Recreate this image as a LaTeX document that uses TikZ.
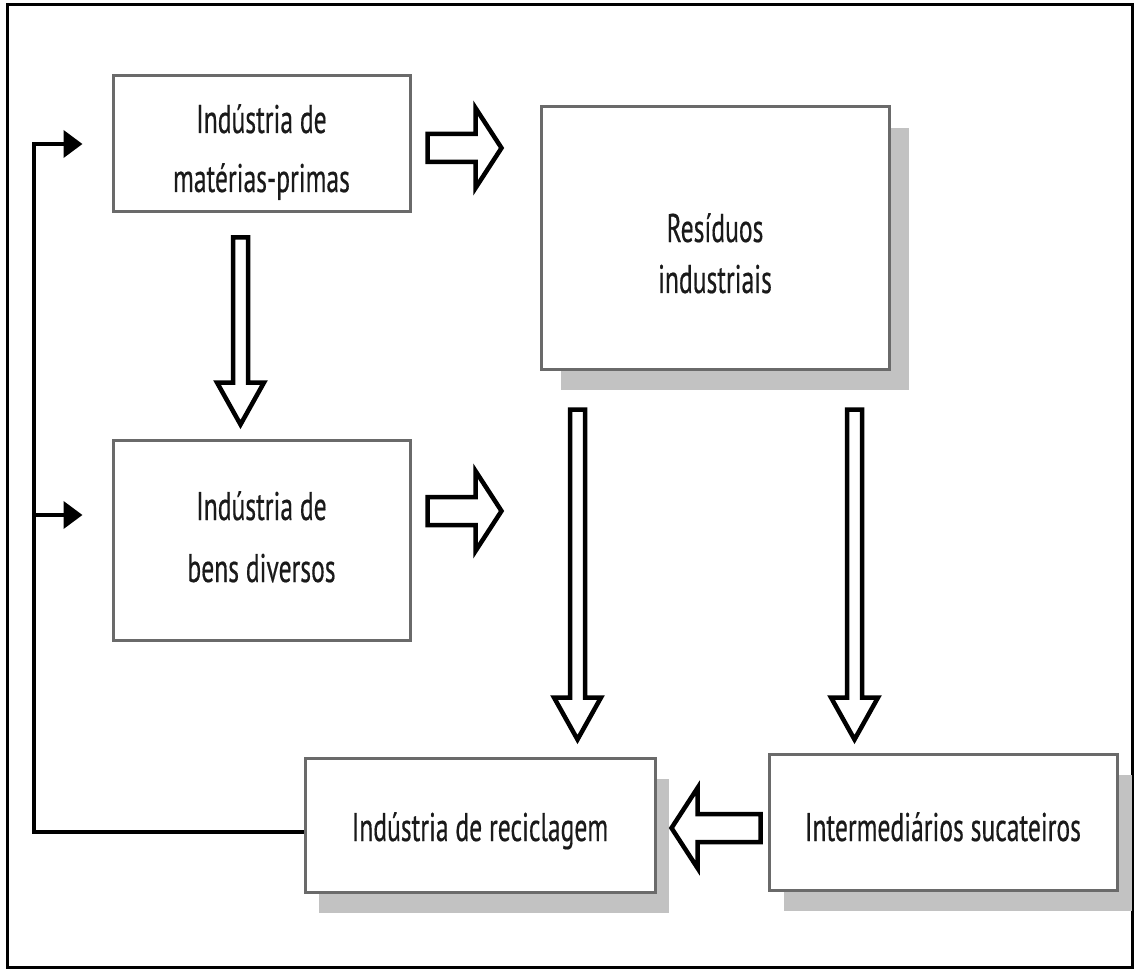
\documentclass[tikz,border=0pt]{standalone}
\usepackage{fontspec}
\setmainfont{PT Sans}[FakeStretch=0.64,FakeBold=0.4]
\usetikzlibrary{calc,shadows,arrows.meta}
\definecolor{boxline}{HTML}{6A6A6A}
\definecolor{shade}{HTML}{C2C2C2}
\definecolor{ink}{HTML}{1A1A1A}

\begin{document}
\begin{tikzpicture}[x=1pt,y=-1pt,
  box/.style={draw=boxline, line width=3pt, fill=white, inner sep=0pt,
    align=center, text=ink},
  txt/.style 2 args={font=\fontsize{40}{#1}\selectfont, text height=#2},
  shadowed/.style={drop shadow={shadow xshift=#1pt, shadow yshift=-21pt,
    fill=shade, opacity=1}},
  blockarrow/.style={draw=black, fill=white, line width=4.5pt, line join=miter},
  fb/.style={draw=black, line width=4pt, -{Triangle[length=19pt,width=27pt]}},
  pics/harrow/.style={code={
    \draw[blockarrow] (0,-14) -- ({#1-26},-14) -- ({#1-26},-40) -- (#1,0)
      -- ({#1-26},40) -- ({#1-26},14) -- (0,14) -- cycle;}},
  pics/varrow/.style={code={
    \draw[blockarrow] (-7.5,0) -- (-7.5,{#1-42}) -- (-23.5,{#1-42}) -- (0,#1)
      -- (23.5,{#1-42}) -- (7.5,{#1-42}) -- (7.5,0) -- cycle;}}
]
\useasboundingbox (0,0) rectangle (1139,973);
\fill[white] (0,0) rectangle (1139,973);
\draw[line width=3pt] (7.5,5) rectangle (1132.5,967.5);

% boxes (text height/depth place the baseline of the last line)
\node[box, txt={59}{100pt}, text depth=4pt,
  minimum width=297pt, minimum height=136pt] (A) at (261.5,144)
  {Indústria de\\matérias-primas};
\node[box, txt={62}{90pt}, text depth=6pt,
  minimum width=297pt, minimum height=200pt] (B) at (261.5,540)
  {Indústria de\\bens diversos};
\node[box, shadowed=20, txt={51}{115pt}, text depth=5pt,
  minimum width=348pt, minimum height=262pt] (C) at (715,238)
  {Resíduos\\industriais};
\node[box, shadowed=14, txt={48}{34pt}, text depth=2pt,
  minimum width=350pt, minimum height=134pt] (D) at (480,825)
  {Indústria de reciclagem};
\node[box, shadowed=15, txt={48}{38pt}, text depth=0pt,
  minimum width=348pt, minimum height=136pt] (E) at (943,822)
  {Intermediários sucateiros};

% hollow block arrows
\pic at ($(A.east)+(16,4)$) {harrow=74};
\pic at ($(B.east)+(16,-29)$) {harrow=74};
\pic at ($(A.south)+(-21,24)$) {varrow=187};
\pic at ($(C.south)+(-137.5,39)$) {varrow=330};
\pic at ($(C.south)+(139.5,39)$) {varrow=330};
\pic[rotate=180] at ($(E.west)+(-7,6)$) {harrow=89};

% feedback line from recycling back to the industries
\draw[fb] ($(D.west)+(0,7)$) -| ($(A.west)+(-78,0)$) -- ($(A.west)+(-29,0)$);
\draw[fb] ($(B.west)+(-78,-25)$) -- ($(B.west)+(-29,-25)$);
\end{tikzpicture}
\end{document}
